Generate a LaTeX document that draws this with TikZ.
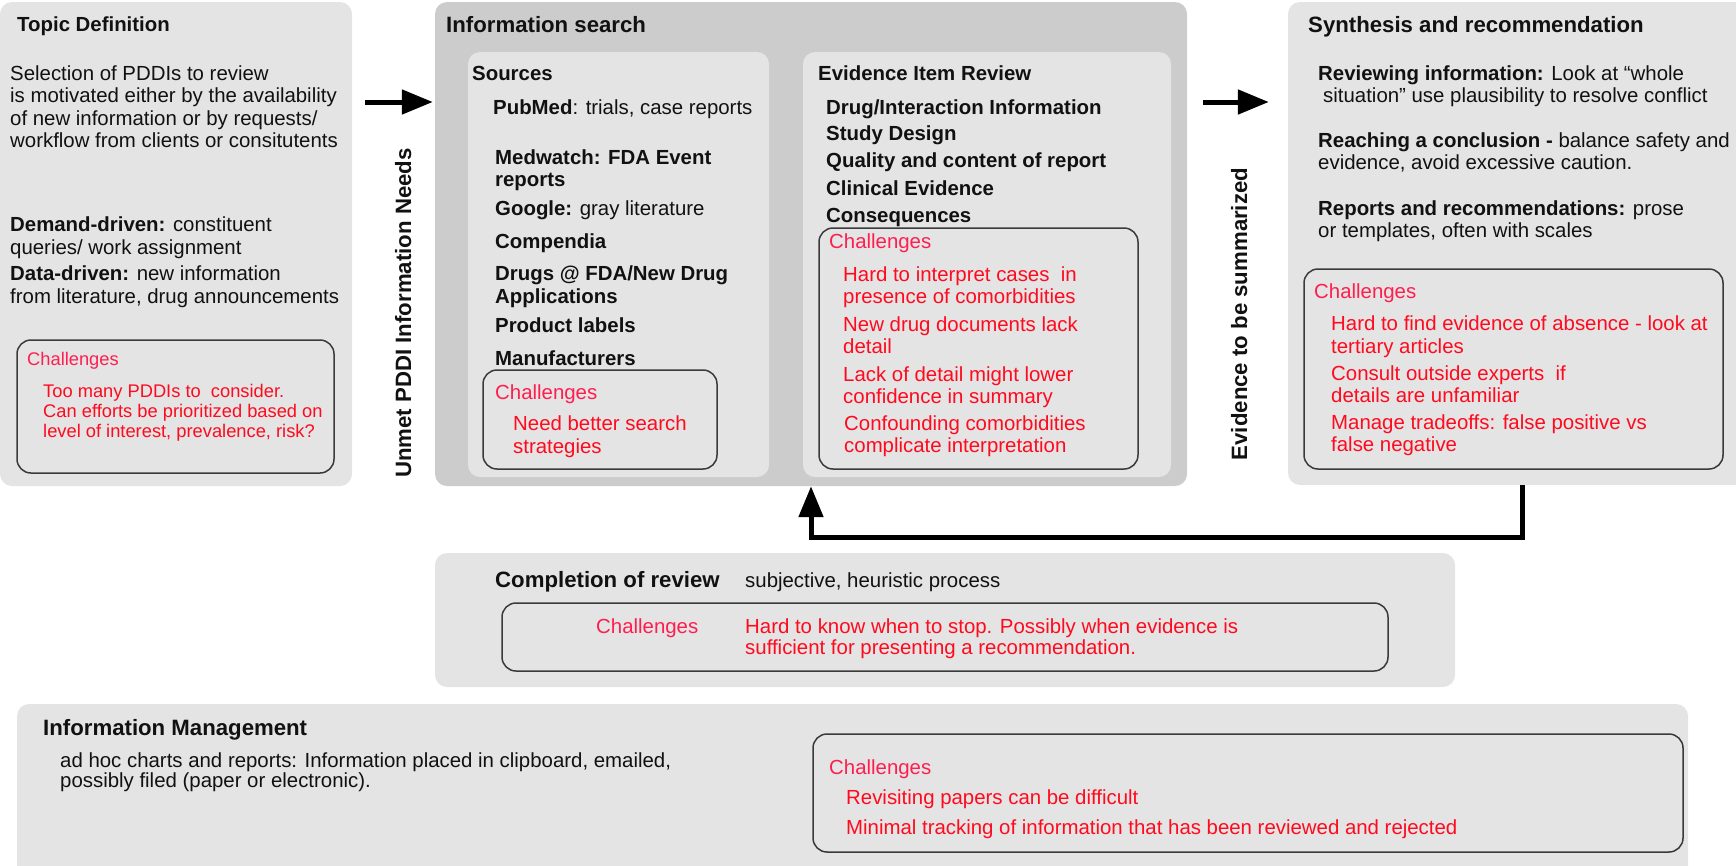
\documentclass[tikz,border=0pt]{standalone}
\usepackage{fontspec}
\setmainfont{Liberation Sans}
\usetikzlibrary{arrows.meta,fit}
\definecolor{panel}{HTML}{E4E4E4}
\definecolor{panelDark}{HTML}{CCCCCC}
\definecolor{chborder}{HTML}{3A3A3A}
\definecolor{chhead}{HTML}{FF1E50}
\definecolor{chitem}{HTML}{FF0A1E}
\definecolor{ink}{HTML}{111111}
\tikzset{
  panelbox/.style={fill=panel, draw=none, rounded corners=12pt, inner sep=0pt},
  chbox/.style={draw=chborder, line width=1.5pt, rounded corners=14pt, inner sep=0pt},
  % multi-line nodes: the base anchor is the baseline of the LAST line
  txt/.style={anchor=base west, inner sep=0pt, align=left, text=ink, font=\fontsize{20.4pt}{22.5pt}\selectfont},
  ttl/.style={txt, font=\bfseries\fontsize{20.4pt}{22.5pt}\selectfont},
  bigttl/.style={txt, font=\bfseries\fontsize{22.2pt}{24pt}\selectfont},
  chh/.style={txt, text=chhead},
  chi/.style={txt, text=chitem},
  bigarrow/.style={line width=5pt, -{Triangle[length=31pt,width=24pt]}, line join=miter},
  sidelabel/.style={anchor=base, rotate=90, inner sep=0pt, text=ink, font=\bfseries\fontsize{22.2pt}{24pt}\selectfont}
}
\begin{document}
\begin{tikzpicture}[x=1pt,y=-1pt]
\useasboundingbox (0,0) rectangle (1736,865);
\clip (0,0) rectangle (1736,865);

% ---------- Topic Definition ----------
\node[panelbox, fit={(0,2) (352,486)}] (topic) {};
\node[chbox, fit={(17,340) (334,473)}] (tdCh) {};
\node[ttl] (tdTitle) at (17,31) {Topic Definition};
\node[txt] (tdBody) at (10,147.5) {Selection of PDDIs to review\\is motivated either by the availability\\of new information or by requests/\\workflow from clients or consitutents};
\node[txt, font=\fontsize{20.4pt}{23pt}\selectfont] (tdDemand) at (10,254) {\textbf{Demand-driven:} constituent\\queries/ work assignment};
\node[txt] (tdData) at (10,303) {\textbf{Data-driven:} new information\\from literature, drug announcements};
\node[chh, font=\fontsize{18.3pt}{20pt}\selectfont] (tdChH) at (27,365) {Challenges};
\node[chi, font=\fontsize{18.3pt}{20pt}\selectfont] (tdChI) at (43,437) {Too many PDDIs to\ \ consider.\\Can efforts be prioritized based on\\level of interest, prevalence, risk?};

% ---------- Information search ----------
\node[panelbox, fill=panelDark, fit={(435,2) (1187,486)}] (isearch) {};
\node[panelbox, fit={(468,52) (769,477)}] (sources) {};
\node[panelbox, fit={(803,52) (1171,477)}] (evrev) {};
\node[bigttl] (isTitle) at (446,32) {Information search};

\node[chbox, fit={(483,370) (717,469)}] (srcCh) {};
\node[ttl] (srcTitle) at (472,80) {Sources};
\node[txt] (srcPub) at (493,114) {\textbf{PubMed}: trials, case reports};
\node[ttl] (srcMed) at (495,186.5) {Medwatch: FDA Event\\reports};
\node[txt] (srcGoo) at (495,215) {\textbf{Google:} gray literature};
\node[ttl] (srcComp) at (495,248) {Compendia};
\node[ttl] (srcDrugs) at (495,303) {Drugs @ FDA/New Drug\\Applications};
\node[ttl] (srcProd) at (495,332) {Product labels};
\node[ttl] (srcMan) at (495,365) {Manufacturers};
\node[chh] (srcChH) at (495,399) {Challenges};
\node[chi, font=\fontsize{20.4pt}{23pt}\selectfont] (srcChI) at (513,453) {Need better search\\strategies};

\node[chbox, fit={(819,228) (1138,469)}] (evCh) {};
\node[ttl] (evTitle) at (818,80) {Evidence Item Review};
\node[ttl] (evI1) at (826,114) {Drug/Interaction Information};
\node[ttl] (evI2) at (826,140) {Study Design};
\node[ttl] (evI3) at (826,167) {Quality and content of report};
\node[ttl] (evI4) at (826,195) {Clinical Evidence};
\node[ttl] (evI5) at (826,222) {Consequences};
\node[chh] (evChH) at (829,248) {Challenges};
\node[chi] (evC1) at (843,303.5) {Hard to interpret cases\ \ in\\presence of comorbidities};
\node[chi] (evC2) at (843,353.5) {New drug documents lack\\detail};
\node[chi] (evC3) at (843,403.5) {Lack of detail might lower\\confidence in summary};
\node[chi] (evC4) at (844,452.5) {Confounding comorbidities\\complicate interpretation};

% ---------- Synthesis ----------
\node[panelbox, fit={(1288,2) (1748,485)}] (synth) {};
\node[chbox, fit={(1304,269) (1723,469)}] (syCh) {};
\node[bigttl] (syTitle) at (1308,32) {Synthesis and recommendation};
\node[txt] (syRev) at (1318,102.5) {\textbf{Reviewing information:} Look at “whole\\\hspace*{5pt}situation” use plausibility to resolve conflict};
\node[txt] (syReach) at (1318,169.5) {\textbf{Reaching a conclusion -} balance safety and\\evidence, avoid excessive caution.};
\node[txt] (syRep) at (1318,237.5) {\textbf{Reports and recommendations:} prose\\or templates, often with scales};
\node[chh] (syChH) at (1314,298) {Challenges};
\node[chi, font=\fontsize{20.4pt}{23pt}\selectfont] (syC1) at (1331,353) {Hard to find evidence of absence - look at\\tertiary articles};
\node[chi] (syC2) at (1331,402.5) {Consult outside experts\ \ if\\details are unfamiliar};
\node[chi] (syC3) at (1331,451.5) {Manage tradeoffs: false positive vs\\false negative};

% ---------- side labels ----------
\node[sidelabel] (unmet) at (411,313) {Unmet PDDI Information Needs};
\node[sidelabel] (evsum) at (1247,314) {Evidence to be summarized};

% ---------- arrows ----------
\coordinate (a1s) at (365,102);
\draw[bigarrow, shorten >=2pt] (a1s) -- (a1s -| isearch.west);
\coordinate (a2s) at (1203,102);
\draw[bigarrow, shorten >=19pt] (a2s) -- (a2s -| synth.west);
\coordinate (retX) at (1522,0);
\coordinate (retTurn) at (811,537);
\draw[bigarrow] (synth.south -| retX) |- (retTurn) -- (isearch.south -| retTurn);

% ---------- Completion of review ----------
\node[panelbox, fit={(435,553) (1455,687)}] (compl) {};
\node[chbox, fit={(502,603) (1388,671)}] (complCh) {};
\node[bigttl] (complTitle) at (495,587) {Completion of review};
\node[txt] (complSub) at (745,587) {subjective, heuristic process};
\node[chh] (complChH) at (596,633) {Challenges};
\node[chi, font=\fontsize{20.4pt}{21pt}\selectfont] (complChI) at (745,654) {Hard to know when to stop. Possibly when evidence is\\sufficient for presenting a recommendation.};

% ---------- Information Management ----------
\node[panelbox, fit={(17,704) (1688,885)}] (infoMgmt) {};
\node[chbox, fit={(813,734) (1683,852)}] (imCh) {};
\node[bigttl] (imTitle) at (43,735) {Information Management};
\node[txt, font=\fontsize{20.4pt}{20pt}\selectfont] (imBody) at (60,787) {ad hoc charts and reports: Information placed in clipboard, emailed,\\possibly filed (paper or electronic).};
\node[chh] (imChH) at (829,774) {Challenges};
\node[chi] (imC1) at (846,804) {Revisiting papers can be difficult};
\node[chi] (imC2) at (846,834) {Minimal tracking of information that has been reviewed and rejected};
\end{tikzpicture}
\end{document}
